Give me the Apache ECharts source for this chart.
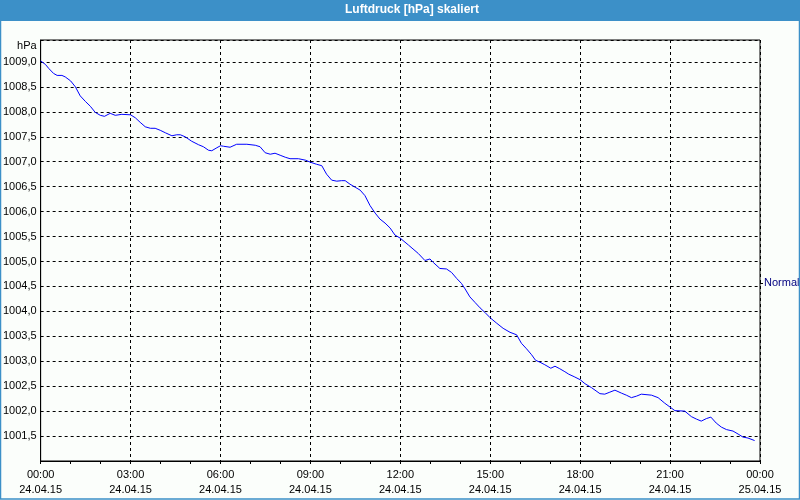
<!DOCTYPE html>
<html>
<head>
<meta charset="utf-8">
<script src="https://cdn.jsdelivr.net/npm/echarts@6/dist/echarts.min.js"></script>
<style>
html,body{margin:0;padding:0;background:#fbfefb;}
#c{width:800px;height:500px;}
</style>
</head>
<body>
<div id="c"></div>
<script>
// Time in hours since 24.04.15 00:00
var hours = [0.0,0.16,0.27,0.43,0.55,0.71,0.82,1.0,1.16,1.32,1.49,1.66,1.82,1.99,2.13,2.32,2.49,2.71,3.0,3.16,3.32,3.49,3.66,3.82,3.99,4.16,4.38,4.54,4.66,4.82,5.04,5.27,5.43,5.6,5.71,5.88,6.0,6.1,6.32,6.54,6.88,7.16,7.32,7.49,7.66,7.82,7.99,8.16,8.32,8.6,8.84,9.0,9.2,9.38,9.54,9.71,9.88,10.04,10.16,10.32,10.49,10.66,10.82,10.99,11.16,11.32,11.49,11.66,11.82,11.99,12.27,12.6,12.82,12.99,13.1,13.32,13.54,13.71,13.88,14.04,14.16,14.32,14.49,14.66,14.82,15.0,15.2,15.43,15.66,15.88,16.04,16.21,16.38,16.51,16.66,16.82,17.02,17.16,17.32,17.49,17.62,17.8,18.0,18.16,18.38,18.66,18.82,18.99,19.16,19.38,19.54,19.71,19.88,20.04,20.38,20.6,20.82,21.0,21.16,21.49,21.71,21.88,22.04,22.21,22.36,22.54,22.71,22.88,23.1,23.27,23.43,23.6,23.82];
var pressure = [1009.02,1008.95,1008.87,1008.77,1008.73,1008.73,1008.70,1008.62,1008.50,1008.32,1008.21,1008.11,1007.99,1007.93,1007.91,1007.97,1007.93,1007.95,1007.94,1007.88,1007.79,1007.70,1007.67,1007.67,1007.63,1007.58,1007.52,1007.54,1007.54,1007.50,1007.41,1007.34,1007.30,1007.23,1007.22,1007.28,1007.32,1007.31,1007.29,1007.35,1007.35,1007.33,1007.30,1007.18,1007.15,1007.17,1007.13,1007.09,1007.06,1007.06,1007.03,1006.99,1006.95,1006.92,1006.75,1006.63,1006.61,1006.62,1006.62,1006.55,1006.49,1006.43,1006.32,1006.12,1005.97,1005.85,1005.77,1005.67,1005.53,1005.47,1005.33,1005.16,1005.02,1005.05,1004.98,1004.86,1004.85,1004.78,1004.66,1004.56,1004.45,1004.29,1004.18,1004.07,1003.98,1003.87,1003.77,1003.66,1003.58,1003.53,1003.36,1003.25,1003.13,1003.02,1002.98,1002.93,1002.86,1002.90,1002.85,1002.79,1002.74,1002.69,1002.63,1002.55,1002.47,1002.35,1002.34,1002.38,1002.42,1002.36,1002.32,1002.27,1002.30,1002.34,1002.32,1002.27,1002.16,1002.08,1002.01,1002.00,1001.89,1001.84,1001.80,1001.85,1001.88,1001.76,1001.68,1001.63,1001.60,1001.54,1001.48,1001.46,1001.41];
var xTickLabels = ['00:00\n24.04.15','03:00\n24.04.15','06:00\n24.04.15','09:00\n24.04.15','12:00\n24.04.15','15:00\n24.04.15','18:00\n24.04.15','21:00\n24.04.15','00:00\n25.04.15'];
var yTickLabels = ['1001,5','1002,0','1002,5','1003,0','1003,5','1004,0','1004,5','1005,0','1005,5','1006,0','1006,5','1007,0','1007,5','1008,0','1008,5','1009,0'];

var font = 'Liberation Sans, Arial, sans-serif';
var chart = echarts.init(document.getElementById('c'), null, {renderer:'canvas'});
var seriesData = hours.map(function(h, i){ return [h, pressure[i]]; });

chart.setOption({
  backgroundColor: '#fbfefb',
  animation: false,
  title: {
    text: 'Luftdruck [hPa] skaliert',
    left: 412, top: 3, textAlign: 'center', padding: 0,
    textStyle: {color: '#ffffff', fontSize: 12, fontWeight: 'bold', fontFamily: font, lineHeight: 14}
  },
  graphic: [
    {type: 'rect', z: -1, shape: {x: 0, y: 0, width: 800, height: 21}, style: {fill: '#3c90c8'}},
    {type: 'rect', z: 100, shape: {x: 0.5, y: 0.5, width: 799, height: 498.5}, style: {fill: null, stroke: '#3c90c8', lineWidth: 1.5}},
    {type: 'line', shape: {x1: 760, y1: 283.5, x2: 763, y2: 283.5}, style: {stroke: '#000', lineWidth: 1}},
    {type: 'text', x: 764, y: 283, style: {text: 'Normal', fill: '#000080', font: '11px ' + font, verticalAlign: 'middle', align: 'left'}}
  ],
  grid: {left: 40, right: 40, top: 40, bottom: 39, show: true, borderColor: '#000', borderWidth: 1, backgroundColor: 'transparent'},
  xAxis: {
    type: 'value', min: 0, max: 24, interval: 3,
    axisLine: {show: true, lineStyle: {color: '#000', width: 1}},
    axisTick: {show: true, length: 3, lineStyle: {color: '#000'}},
    minorTick: {show: true, splitNumber: 3, length: 3, lineStyle: {color: '#000'}},
    splitLine: {show: true, lineStyle: {color: '#000', type: [3, 3], width: 1}},
    axisLabel: {
      margin: 6, color: '#000', fontSize: 11, fontFamily: font, lineHeight: 15,
      formatter: function(v){ return xTickLabels[Math.round(v / 3)]; }
    }
  },
  yAxis: {
    type: 'value', min: 1001, max: 1009.44, interval: 0.5,
    name: 'hPa', nameLocation: 'end', nameGap: -6,
    nameTextStyle: {color: '#000', fontSize: 11, fontFamily: font, align: 'right', verticalAlign: 'middle', padding: [0, 4, 0, 0]},
    axisLine: {show: true, lineStyle: {color: '#000', width: 1}},
    axisTick: {show: false},
    splitLine: {show: true, lineStyle: {color: '#000', type: [3, 3], width: 1}},
    axisLabel: {
      margin: 4, color: '#000', fontSize: 11, fontFamily: font,
      showMinLabel: false, showMaxLabel: false,
      formatter: function(v){ var i = Math.round((v - 1001.5) / 0.5); return (i >= 0 && i < yTickLabels.length) ? yTickLabels[i] : ''; }
    }
  },
  series: [{
    name: 'Normal', type: 'line', data: seriesData, showSymbol: false, symbol: 'none',
    lineStyle: {color: '#0000ff', width: 1}, smooth: false
  }]
});
</script>
</body>
</html>
